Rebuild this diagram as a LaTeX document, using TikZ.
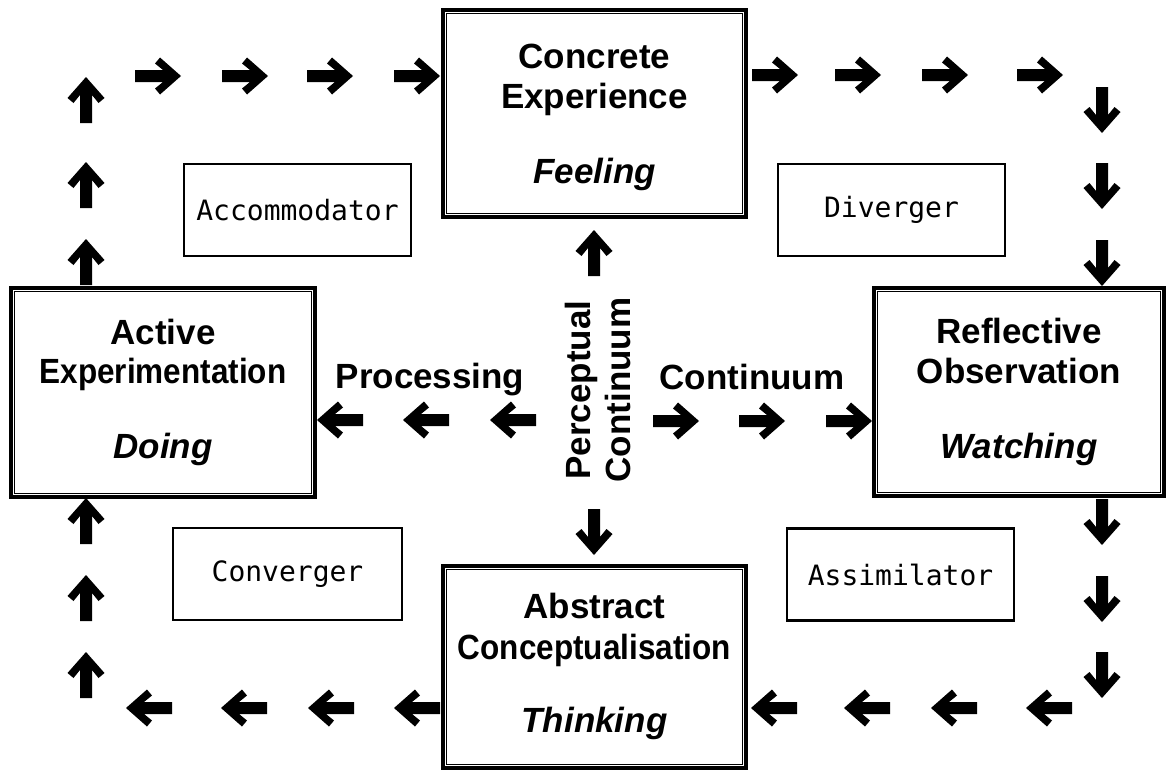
\documentclass[tikz,border=0pt]{standalone}
\usepackage{fontspec}
\setmainfont{Liberation Sans}
\newfontfamily\monof{DejaVu Sans Mono}
\usepackage{graphicx}
\newcommand\bigf{\fontsize{35}{42}\selectfont\bfseries}
\newcommand\bigfi{\fontsize{35}{42}\selectfont\bfseries\itshape}
\begin{document}
\begin{tikzpicture}[x=1pt,y=-1pt,
  dbl/.style={draw, line width=3.2pt, inner sep=0pt},
  innerline/.style={draw, line width=1.3pt},
  smallbox/.style={draw, line width=2.2pt, inner sep=0pt, minimum height=92pt,
    font=\monof\fontsize{28}{32}\selectfont},
  boxtext/.style={anchor=base, font=\bigf, inner sep=0pt},
  boxital/.style={anchor=base, font=\bigfi, inner sep=0pt},
  arr/.pic={\fill (0,-6) -- (28,-6) -- (20,-12.5) -- (25,-18.5) -- (46,0)
      -- (25,18.5) -- (20,12.5) -- (28,6) -- (0,6) -- cycle;}
]
\useasboundingbox (0,0) rectangle (1172,771);
\fill[white] (0,0) rectangle (1172,771);

% main boxes
\node[dbl, minimum width=303pt, minimum height=207pt] (ce) at (594.5,113.5) {};
\node[dbl, minimum width=304pt, minimum height=209pt] (ae) at (163,392.5) {};
\node[dbl, minimum width=290pt, minimum height=208pt] (ro) at (1019,392) {};
\node[dbl, minimum width=303pt, minimum height=202pt] (ac) at (594.5,667) {};
\foreach \n in {ce,ae,ro,ac}
  \draw[innerline] ([shift={(5,5)}]\n.north west) rectangle ([shift={(-5,-5)}]\n.south east);

% box texts
\node[boxtext] (ce1) at (594.5,68) {Concrete};
\node[boxtext] (ce2) at (594.5,108) {Experience};
\node[boxital] (ce3) at (594.5,183) {Feeling};

\node[boxtext] (ae1) at (163,344) {Active};
\node[boxtext] (ae2) at (163,383) {\scalebox{0.9}[1]{Experimentation}};
\node[boxital] (ae3) at (163,458) {Doing};

\node[boxtext] (ro1) at (1019,343) {Reflective};
\node[boxtext] (ro2) at (1019,383) {Observation};
\node[boxital] (ro3) at (1019,458) {Watching};

\node[boxtext] (ac1) at (594.5,618) {Abstract};
\node[boxtext] (ac2) at (594.5,659) {\scalebox{0.9}[1]{Conceptualisation}};
\node[boxital] (ac3) at (594.5,732) {Thinking};

% style boxes
\node[smallbox, minimum width=227pt] (acc) at (297.5,210) {Accommodator};
\node[smallbox, minimum width=227pt] (div) at (891.5,210) {Diverger};
\node[smallbox, minimum width=229pt] (con) at (287.5,574) {Converger};
\node[smallbox, minimum width=227pt] (ass) at (900.5,574.5) {Assimilator};

% axis labels
\node[boxtext] (proc) at (430,388) {Processing};
\node[boxtext] (cont) at (752,389) {Continuum};
\node[boxtext, rotate=90] (perc1) at (590,390) {Perceptual};
\node[boxtext, rotate=90] (perc2) at (630,390) {Continuum};

% top row (left part) ->
\foreach \x in {135,222,307,394} \pic at (\x,76) {arr};
% top row (right part) ->
\foreach \x in {752,835,922,1017} \pic at (\x,75) {arr};
% right column down
\foreach \y in {87,163,240,499,576,652} \pic[rotate=-90] at (1102,\y) {arr};
% bottom row <-
\foreach \x in {1072,977,890,797,440,354,267,172} \pic[rotate=180] at (\x,708) {arr};
% left column up
\foreach \y in {698,621,544,285,208,123} \pic[rotate=90] at (86,\y) {arr};
% processing <-
\foreach \x in {536,449,363} \pic[rotate=180] at (\x,420) {arr};
% continuum ->
\foreach \x in {653,739,826} \pic at (\x,421) {arr};
% perceptual up / down
\pic[rotate=90] at (594,276) {arr};
\pic[rotate=-90] at (594,509) {arr};
\end{tikzpicture}
\end{document}
